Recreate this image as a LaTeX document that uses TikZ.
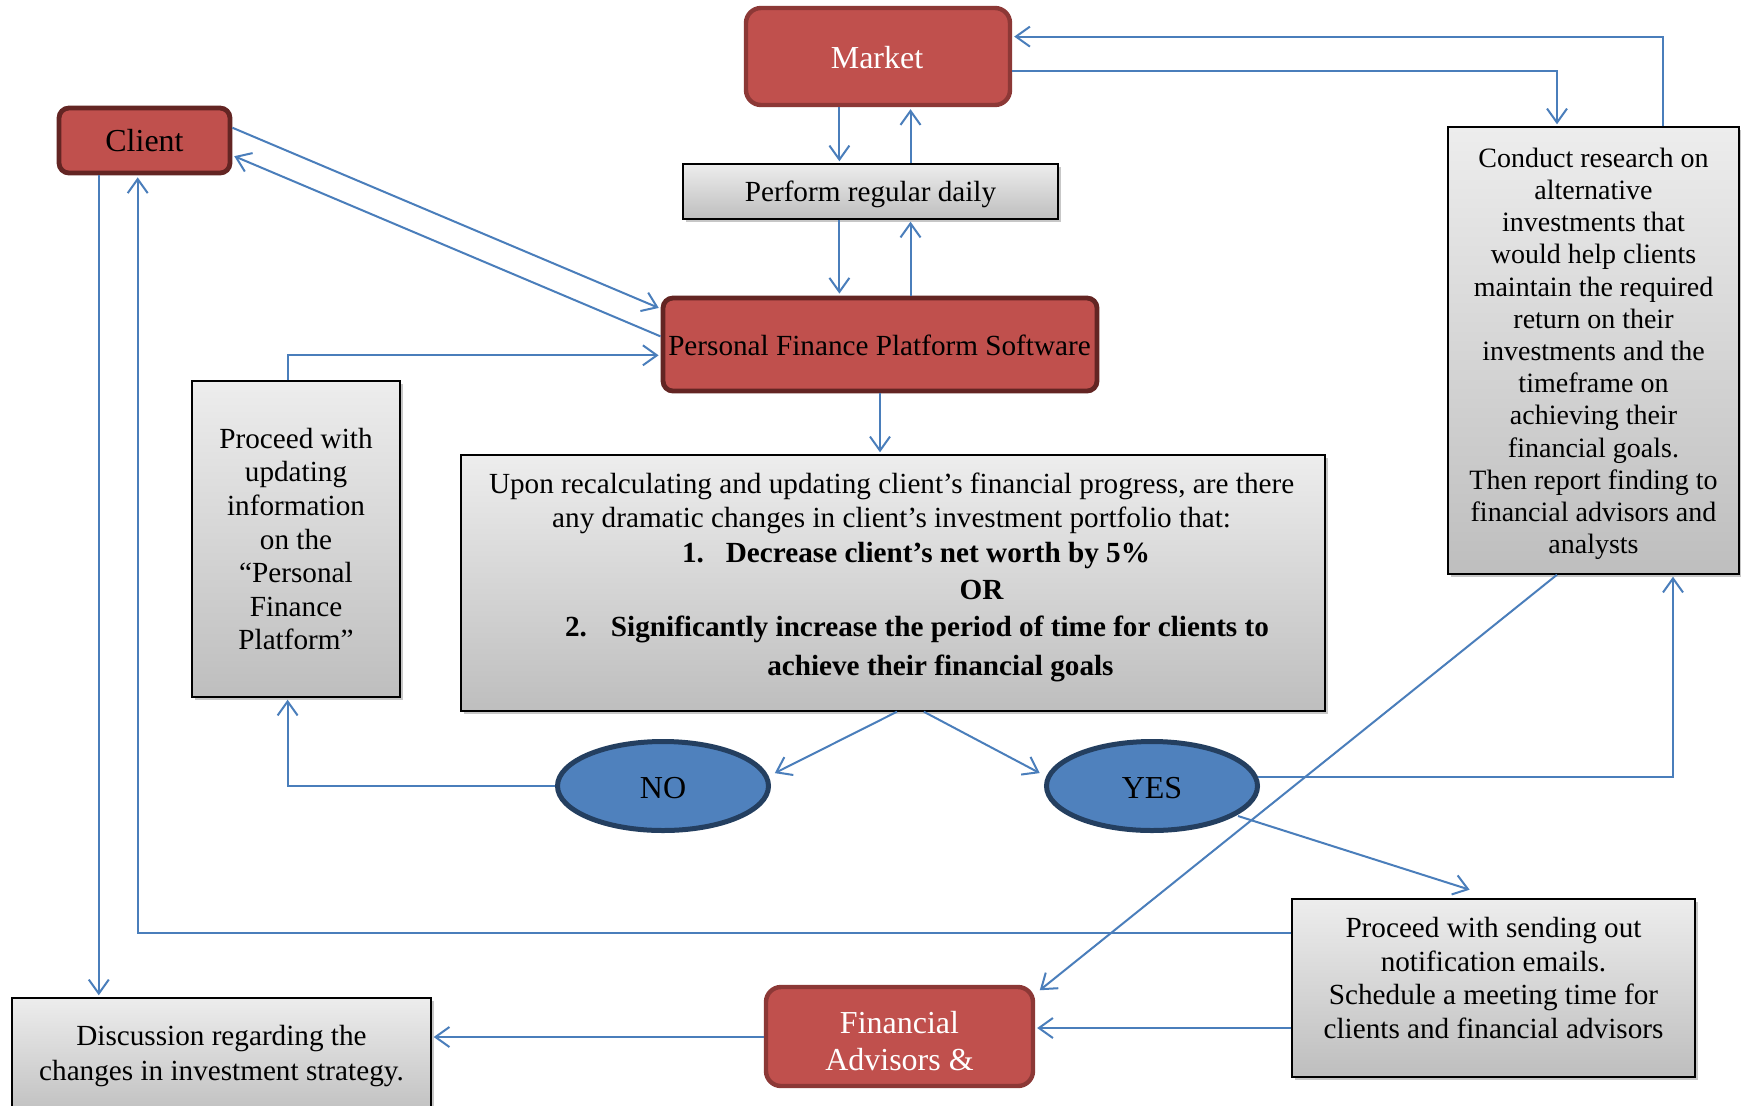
\documentclass[tikz,border=0pt]{standalone}
\usepackage{fontspec}
\setmainfont{Liberation Serif}
\usetikzlibrary{arrows.meta,shapes.geometric,shadows,calc}
\definecolor{redfill}{HTML}{C0504D}
\definecolor{redline}{HTML}{632523}
\definecolor{redlinetwo}{HTML}{8C3836}
\definecolor{bluefill}{HTML}{4F81BD}
\definecolor{blueline}{HTML}{243F60}
\definecolor{linkblue}{HTML}{4A7EBB}
\definecolor{graytop}{HTML}{EDEDED}
\definecolor{graybot}{HTML}{BEBEBE}
\begin{document}
\begin{tikzpicture}[x=0.5pt,y=-0.5pt,
  font=\fontsize{14.6}{16.8}\selectfont,
  redbox/.style={rectangle, rounded corners=5pt, fill=redfill, draw=redline, line width=2.4pt, inner sep=0pt, align=center},
  redboxtwo/.style={rectangle, rounded corners=7.5pt, fill=redfill, draw=redlinetwo, line width=2.2pt, inner sep=0pt, text=white, align=center, font=\fontsize{16}{18.3}\selectfont},
  graybox/.style={rectangle, draw=black, line width=0.7pt, top color=graytop, bottom color=graybot, inner sep=0pt, align=center,
     drop shadow={shadow xshift=1.6pt, shadow yshift=-1.6pt, opacity=1, fill=black!22}},
  oval/.style={ellipse, fill=bluefill, draw=blueline, line width=2.5pt, inner sep=0pt, font=\fontsize{16}{18}\selectfont, text height=12.6pt, text depth=0pt},
  link/.style={draw=linkblue, line width=1pt, shorten >=1pt, -{Straight Barb[length=7pt,width=10pt,line width=1pt]}},
  txt/.style={inner sep=0pt, align=center},
  uline/.style={inner sep=0pt, text height=10pt, text depth=3pt},
  boldline/.style={uline, font=\fontsize{14.6}{16.8}\selectfont\bfseries},
]
\useasboundingbox (0,0) rectangle (1741,1105);
\fill[white] (0,0) rectangle (1741,1105);

% nodes
\node[redboxtwo, minimum width=132pt, minimum height=48.5pt] (market) at (878,56.5) {};
\node[uline, text=white, font=\fontsize{16}{18}\selectfont] (markettxt) at (877,61.3) {Market};
\node[redbox, minimum width=85.5pt, minimum height=32.5pt, font=\fontsize{16}{18}\selectfont] (client) at (144.5,140.5) {Client};
\node[graybox, minimum width=187.5pt, minimum height=27.5pt] (perform) at (870.5,191.5) {};
\node[uline] (performtxt) at (870.5,194.3) {Perform regular daily};
\node[redbox, minimum width=217pt, minimum height=46.5pt] (pfps) at (880,344.5) {};
\node[uline] (pfpstxt) at (879.5,348.6) {Personal Finance Platform Software};
\node[graybox, minimum width=104pt, minimum height=158pt] (upd) at (296,539)
  {Proceed with\\updating\\information\\on the\\“Personal\\Finance\\Platform”};
\node[graybox, minimum width=432pt, minimum height=128pt] (upon) at (893,583) {};
\node[uline] (u1) at (891.6,486.3) {Upon recalculating and updating client’s financial progress, are there};
\node[uline] (u2) at (891.6,520.7) {any dramatic changes in client’s investment portfolio that:};
\node[boldline] (u3) at (916,555.1) {1.\hspace{11pt}Decrease client’s net worth by 5\%};
\node[boldline] (u4) at (981.5,592.9) {OR};
\node[boldline] (u5) at (917,629.5) {2.\hspace{12pt}Significantly increase the period of time for clients to};
\node[boldline] (u6) at (940.4,668.3) {achieve their financial goals};
\node[oval, minimum width=105.5pt, minimum height=44.5pt] (no) at (663,786) {NO};
\node[oval, minimum width=105.5pt, minimum height=44.5pt] (yes) at (1152,786) {YES};
\node[graybox, minimum width=145.5pt, minimum height=223.5pt] (conduct) at (1593.5,350.5) {};
\node[txt, font=\fontsize{14}{16.1}\selectfont] (conducttxt) at (1593.5,353.8)
  {Conduct research on\\alternative\\investments that\\would help clients\\maintain the required\\return on their\\investments and the\\timeframe on\\achieving their\\financial goals.\\Then report finding to\\financial advisors and\\analysts};
\node[graybox, minimum width=201.5pt, minimum height=89pt] (sending) at (1493.5,988) {};
\node[txt] (sendtxt) at (1493.5,978)
  {Proceed with sending out\\notification emails.\\Schedule a meeting time for\\clients and financial advisors};
\node[redboxtwo, minimum width=133.5pt, minimum height=49.5pt] (fin) at (899.5,1036.5) {};
\node[txt, text=white, font=\fontsize{16}{18.3}\selectfont] (fintxt) at (899.5,1041) {Financial\\Advisors \&};
\node[graybox, minimum width=209.5pt, minimum height=61pt] (disc) at (221.5,1059) {};
\node[txt, font=\fontsize{14.6}{17.5}\selectfont] (disctxt) at (221.5,1055.8)
  {Discussion regarding the\\changes in investment strategy.};

% connectors
\draw[link] (market.south -| 839.4,0) -- (perform.north -| 839.4,0);
\draw[link] (perform.north -| 910.5,0) -- (market.south -| 910.5,0);
\draw[link] (perform.south -| 839.4,0) -- (pfps.north -| 839.4,0);
\draw[link] (pfps.north -| 910.5,0) -- (perform.south -| 910.5,0);
\draw[link] (market.east |- 0,71) -| (conduct.north -| 1557,0);
\draw[link] (conduct.north -| 1663,0) |- (market.east |- 0,36.6);
\draw[link] (client.east |- 0,127.7) -- (pfps.west |- 0,308.7);
\draw[link] (pfps.west |- 0,336.4) -- (client.east |- 0,155.4);
\draw[link] (upd.north -| 287.6,0) |- (pfps.west |- 0,355.3);
\draw[link] (pfps.south) -- (upon.north -| pfps.south);
\draw[link] (upon.south -| 897,0) -- ($(no.center)+(110,-12)$);
\draw[link] (upon.south -| 923.8,0) -- ($(yes.center)+(-110.5,-12)$);
\draw[link] (no.west) -| (upd.south -| 287.6,0);
\draw[link] ($(yes.center)+(106,-9)$) -| (conduct.south -| 1673,0);
\draw[link] ($(yes.center)+(86,30)$) -- ($(sending.north)+(-22,-8)$);
\draw[link] (conduct.south -| 1557,0) -- ($(fin.north east)+(3,6.7)$);
\draw[link] (sending.west |- 0,932.7) -| (client.south -| 137.7,0);
\draw[link] (client.south -| 98.8,0) -- (disc.north -| 98.8,0);
\draw[link] (sending.west |- 0,1028) -- (fin.east |- 0,1028);
\draw[link] (fin.west |- 0,1037) -- (disc.east |- 0,1037);
\end{tikzpicture}
\end{document}
